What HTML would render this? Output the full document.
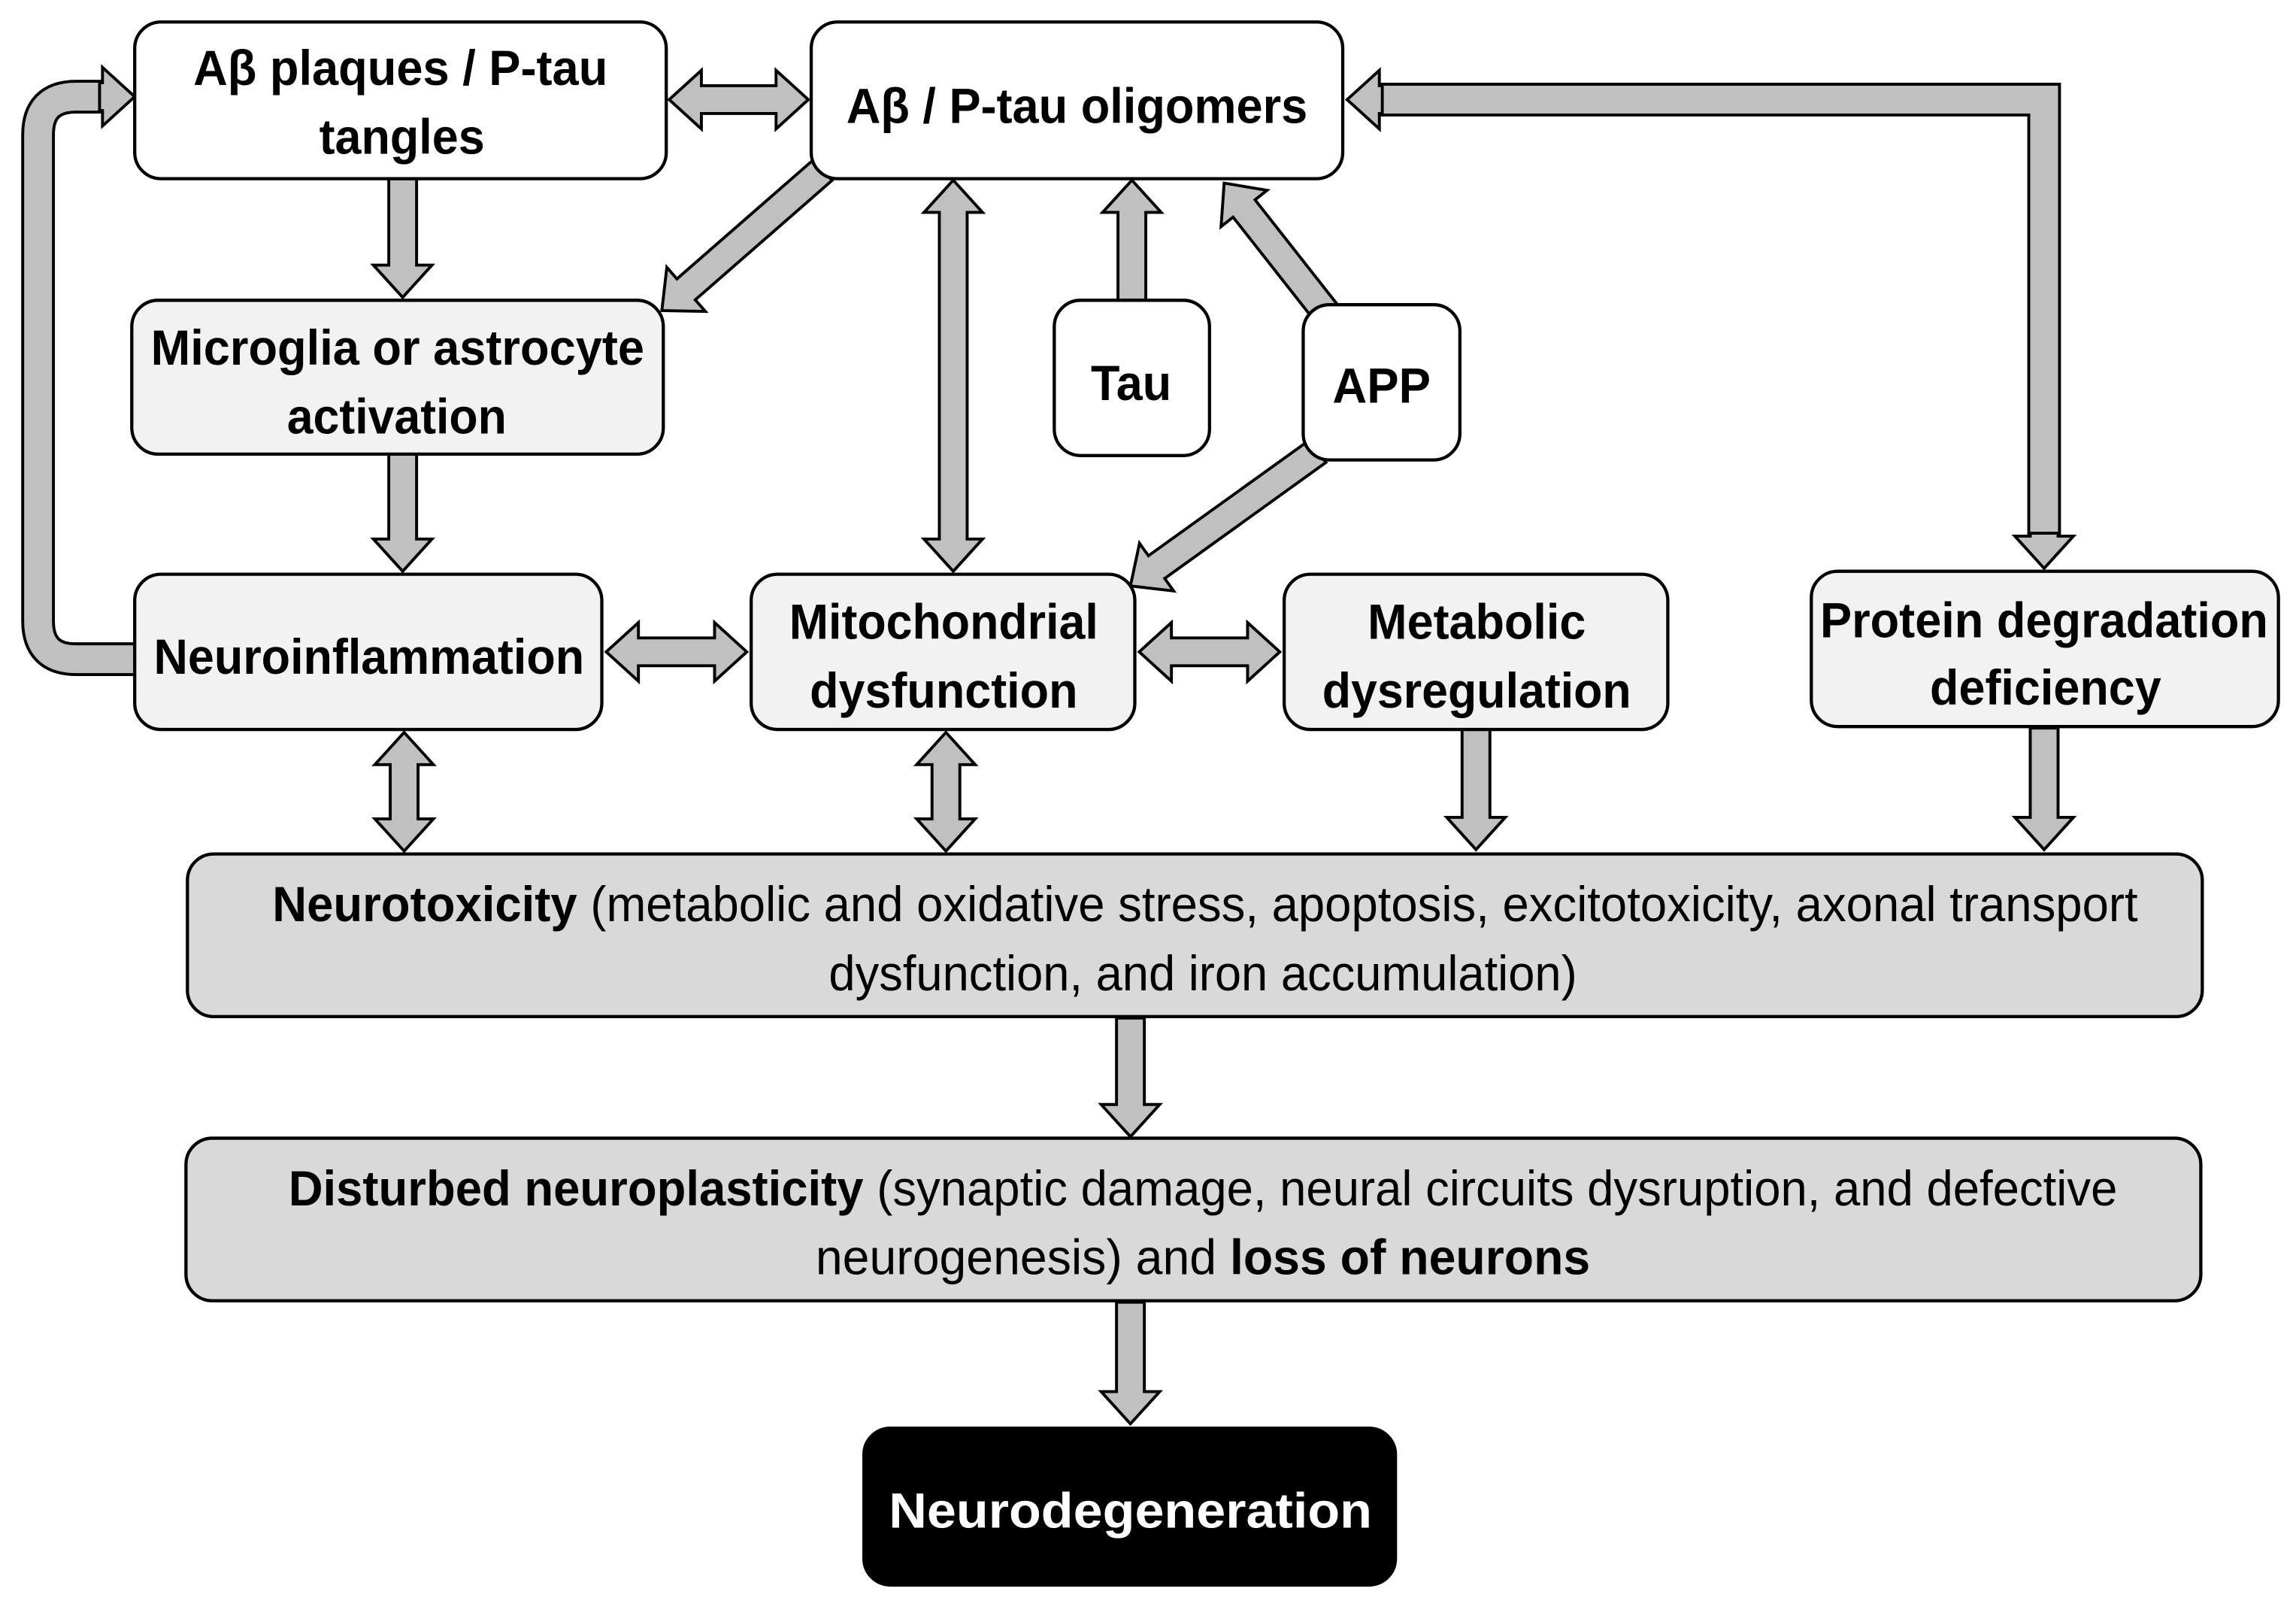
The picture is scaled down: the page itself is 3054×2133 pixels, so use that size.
<!DOCTYPE html>
<html><head><meta charset="utf-8"><style>
html,body{margin:0;padding:0;background:#fff;}
svg{display:block;}
text{font-family:"Liberation Sans Narrow","Liberation Sans",sans-serif;font-size:34px;fill:#000;}
.b{font-weight:bold;}
</style></head><body>
<svg id="s" width="3054" height="2133" viewBox="0 0 1568 1095" preserveAspectRatio="none" xmlns="http://www.w3.org/2000/svg">
<g id="arrows"></g>
<g stroke="#000" stroke-width="2.2">
<rect x="92" y="15" width="363" height="107" rx="18" fill="#fff"/>
<rect x="554" y="15" width="363" height="107" rx="18" fill="#fff"/>
<rect x="90" y="205" width="363" height="105" rx="18" fill="#f2f2f2"/>
<rect x="720" y="205" width="106" height="106" rx="18" fill="#fff"/>
<rect x="890" y="208" width="107" height="106" rx="18" fill="#fff"/>
<rect x="92" y="392" width="319" height="106" rx="18" fill="#f2f2f2"/>
<rect x="513" y="392" width="262" height="106" rx="18" fill="#f2f2f2"/>
<rect x="877" y="392" width="262" height="106" rx="18" fill="#f2f2f2"/>
<rect x="1237" y="390" width="319" height="106" rx="18" fill="#f2f2f2"/>
<rect x="128" y="583" width="1376" height="111" rx="18" fill="#d9d9d9"/>
<rect x="127" y="777" width="1376" height="111" rx="18" fill="#d9d9d9"/>
<rect x="590" y="975" width="363" height="107" rx="18" fill="#000"/>
</g>
<g class="b">
<text x="132" y="58" textLength="283" lengthAdjust="spacingAndGlyphs">Aβ plaques / P-tau</text>
<text x="218" y="105" textLength="113" lengthAdjust="spacingAndGlyphs">tangles</text>
<text x="578" y="84" textLength="315" lengthAdjust="spacingAndGlyphs">Aβ / P-tau oligomers</text>
<text x="103" y="249" textLength="337" lengthAdjust="spacingAndGlyphs">Microglia or astrocyte</text>
<text x="196" y="296" textLength="150" lengthAdjust="spacingAndGlyphs">activation</text>
<text x="745" y="273" textLength="55" lengthAdjust="spacingAndGlyphs">Tau</text>
<text x="910" y="275" textLength="67" lengthAdjust="spacingAndGlyphs">APP</text>
<text x="105" y="460" textLength="294" lengthAdjust="spacingAndGlyphs">Neuroinflammation</text>
<text x="539" y="436" textLength="211" lengthAdjust="spacingAndGlyphs">Mitochondrial</text>
<text x="553" y="483" textLength="183" lengthAdjust="spacingAndGlyphs">dysfunction</text>
<text x="934" y="436" textLength="149" lengthAdjust="spacingAndGlyphs">Metabolic</text>
<text x="903" y="483" textLength="211" lengthAdjust="spacingAndGlyphs">dysregulation</text>
<text x="1243" y="435" textLength="306" lengthAdjust="spacingAndGlyphs">Protein degradation</text>
<text x="1318" y="481" textLength="158" lengthAdjust="spacingAndGlyphs">deficiency</text>
<text x="607" y="1043" textLength="330" lengthAdjust="spacingAndGlyphs" style="fill:#fff">Neurodegeneration</text>
</g>
<text x="186" y="629" textLength="1274" lengthAdjust="spacingAndGlyphs"><tspan class="b">Neurotoxicity</tspan> (metabolic and oxidative stress, apoptosis, excitotoxicity, axonal transport</text>
<text x="566" y="676" textLength="511" lengthAdjust="spacingAndGlyphs">dysfunction, and iron accumulation)</text>
<text x="197" y="823" textLength="1249" lengthAdjust="spacingAndGlyphs"><tspan class="b">Disturbed neuroplasticity</tspan> (synaptic damage, neural circuits dysruption, and defective</text>
<text x="557" y="870" textLength="529" lengthAdjust="spacingAndGlyphs">neurogenesis) and  <tspan class="b">loss of neurons</tspan></text>
</svg>
<script>
var g=document.getElementById('arrows'),NS='http://www.w3.org/2000/svg';
function el(n,a){var e=document.createElementNS(NS,n);for(var k in a)e.setAttribute(k,a[k]);g.appendChild(e);return e;}
var SW=19,HW=40,HL=22;
function arrow(x1,y1,x2,y2,dbl){
 var dx=x2-x1,dy=y2-y1,L=Math.hypot(dx,dy),ux=dx/L,uy=dy/L,px=-uy,py=ux;
 var pts=[],s=SW/2,h=HW/2;
 function P(a,b){pts.push((x1+ux*a+px*b).toFixed(1)+','+(y1+uy*a+py*b).toFixed(1));}
 var st=dbl?HL:0;
 if(dbl){P(0,0);P(HL,h);P(HL,s);}else{P(0,s);}
 P(L-HL,s);P(L-HL,h);P(L,0);P(L-HL,-h);P(L-HL,-s);
 if(dbl){P(HL,-s);P(HL,-h);}else{P(0,-s);}
 el('polygon',{points:pts.join(' '),fill:'#c0c0c0',stroke:'#000','stroke-width':2,'stroke-linejoin':'miter'});
}
function head(x,y,ux,uy){
 var px=-uy,py=ux,h=HW/2,pts=[];
 function P(a,b){pts.push((x+ux*a+px*b)+','+(y+uy*a+py*b));}
 P(0,0);P(-HL,h);P(-HL,SW/2);P(-HL-2,SW/2);P(-HL-2,-SW/2);P(-HL,-SW/2);P(-HL,-h);
 el('polygon',{points:pts.join(' '),fill:'#c0c0c0',stroke:'#000','stroke-width':2});
}
function pathArrow(d){
 el('path',{d:d,fill:'none',stroke:'#000','stroke-width':SW+4});
 el('path',{d:d,fill:'none',stroke:'#c0c0c0','stroke-width':SW});
}
arrow(457,68,552,68,1);
arrow(275,122,275,203);
arrow(562,116,452,212);
arrow(275,310,275,390);
pathArrow('M92,450 L52,450 Q26,450 26,424 L26,92 Q26,66 52,66 L72,66');
head(92,66,1,0);
arrow(651,123,651,390,1);
arrow(773,205,773,123);
arrow(906,214,836,125);
arrow(900,308,772,400);
arrow(414,445,510,445,1);
arrow(778,445,874,445,1);
pathArrow('M942,68 L1396,68 L1396,366');
head(920,68,-1,0);
head(1396,388,0,1);
arrow(276,500,276,581,1);
arrow(646,500,646,581,1);
arrow(1008,498,1008,580);
arrow(1396,497,1396,580);
arrow(772,695,772,776);
arrow(772,889,772,972);
</script>
</body></html>
